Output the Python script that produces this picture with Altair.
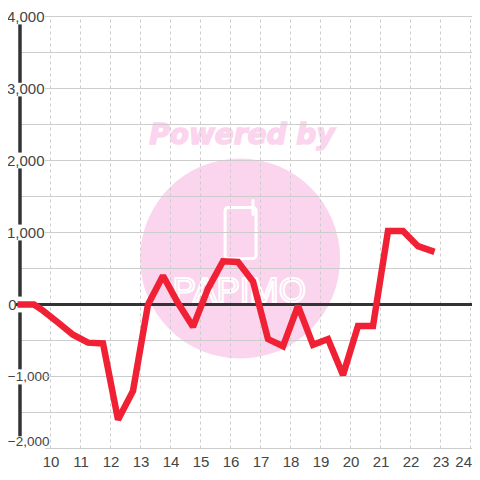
import altair as alt
import pandas as pd

hours = [8.9, 9.45, 9.75, 10.25, 10.75, 11.25, 11.75, 12.25, 12.75, 13.25, 13.75, 14.25, 14.75, 15.25, 15.75, 16.25, 16.75, 17.25, 17.75, 18.25, 18.75, 19.25, 19.75, 20.25, 20.75, 21.25, 21.75, 22.25, 22.8]
values = [0, 0, -85, -250, -420, -530, -540, -1600, -1200, 0, 400, 20, -310, 220, 600, 590, 320, -480, -580, -20, -560, -480, -980, -300, -300, 1020, 1020, 810, 730]
y_labelled = [-2000, -1000, 1000, 2000, 3000, 4000]
y_plain = [-1500, -500, 500, 1500, 2500, 3500]
x_ticks = list(range(10, 25))
axis_from = [3890, 2890, 1890, 890, -110, -1110]
axis_to = [3080, 2110, 1110, 110, -900, -1830]

XMAX = 24.05
XD = [8.85, XMAX]
YD = [-2006.95, 4006.94]
x_scale = alt.Scale(domain=XD, nice=False, zero=False)
y_scale = alt.Scale(domain=YD, nice=False, zero=False)
x_axis = alt.Axis(
    values=x_ticks, grid=False, ticks=False, domain=False, labelFont="Liberation Sans",
    labelFontSize=15, labelColor="#444444", labelPadding=5, labelAngle=0, format="d",
    labelFlush=False, labelOverlap=False,
    labelAlign=alt.expr("datum.value == 24 ? 'right' : 'center'"),
    labelOffset=alt.expr("datum.value == 24 ? 1 : 0"))
y_axis = alt.Axis(
    values=y_labelled + [0], grid=False, ticks=False, domain=False, labelFont="Liberation Sans",
    labelColor="#444444", format=",d", labelOverlap=False, labelFlush=False,
    labelFontSize=alt.expr("datum.value < 0 ? 13.5 : 15"),
    labelPadding=alt.expr("datum.value == 0 ? 0 : datum.value < 0 ? -33 : -28"),
    labelOffset=alt.expr("datum.value == -2000 ? -7 : 0"))
X = lambda f: alt.X(f, type="quantitative", scale=x_scale, title=None, axis=x_axis)
Y = lambda f: alt.Y(f, type="quantitative", scale=y_scale, title=None, axis=y_axis)

PINK = "#fbd5ee"
df = pd.DataFrame({"h": hours, "v": values})

circle = alt.Chart(pd.DataFrame({"h": [16.32], "v": [639]})).mark_circle(size=40000, color=PINK, opacity=1).encode(x=X("h"), y=Y("v"))
powered = alt.Chart(pd.DataFrame({"h": [16.38], "v": [2340], "t": ["Powered by"]})).mark_text(
    font="DejaVu Sans", fontWeight="bold", fontStyle="italic", fontSize=28, color=PINK, stroke=PINK, strokeWidth=1.5
).encode(x=X("h"), y=Y("v"), text="t:N")
brand = alt.Chart(pd.DataFrame({"h": [16.29], "v": [190], "t": ["PAPIMO"]})).mark_text(
    font="Liberation Sans", fontSize=35, fill=PINK, stroke="white", strokeWidth=2
).encode(x=X("h"), y=Y("v"), text="t:N")
phone = alt.Chart(pd.DataFrame({"a": [15.82], "b": [16.85], "c": [640], "d": [1347]})).mark_rect(
    fillOpacity=0, stroke="white", strokeWidth=3, cornerRadius=3
).encode(x=X("a"), x2="b", y=Y("c"), y2="d")
antenna = alt.Chart(pd.DataFrame({"h": [16.75], "a": [1250], "b": [1444]})).mark_rule(
    color="white", strokeWidth=3, strokeCap="round").encode(x=X("h"), y=Y("a"), y2="b")

vgrid = alt.Chart(pd.DataFrame({"h": x_ticks, "a": [-2000] * 15, "b": [4000] * 15})).mark_rule(
    color="#cccccc", strokeDash=[3, 3], strokeWidth=1).encode(x=X("h"), y=Y("a"), y2="b")
h1 = alt.Chart(pd.DataFrame({"v": y_labelled, "a": [9.82] * 6, "b": [XMAX] * 6})).mark_rule(color="#cccccc", strokeWidth=1).encode(y=Y("v"), x=X("a"), x2="b")
h2 = alt.Chart(pd.DataFrame({"v": y_plain, "a": [9.0] * 6, "b": [XMAX] * 6})).mark_rule(color="#cccccc", strokeWidth=1).encode(y=Y("v"), x=X("a"), x2="b")
spine = alt.Chart(pd.DataFrame({"h": [8.983] * 6, "a": axis_from, "b": axis_to})).mark_rule(color="#333333", strokeWidth=3.5).encode(x=X("h"), y=Y("a"), y2="b")
zero = alt.Chart(pd.DataFrame({"v": [0], "a": [8.85], "b": [XMAX]})).mark_rule(color="#333333", strokeWidth=3).encode(y=Y("v"), x=X("a"), x2="b")
line = alt.Chart(df).mark_line(color="#f02035", strokeWidth=6.5, strokeJoin="miter", strokeMiterLimit=2, clip=True).encode(x=X("h"), y=Y("v"), order="h:Q")

chart = alt.layer(circle, powered, phone, antenna, brand, vgrid, h1, h2, zero, spine, line).properties(
    width=456, height=433, padding={"left": 8, "top": 8, "right": 0, "bottom": 23},
    autosize=alt.AutoSizeParams(type="none")
).configure_view(stroke=None)

chart.save("out.html", embed_options={"renderer": "svg", "actions": False})
